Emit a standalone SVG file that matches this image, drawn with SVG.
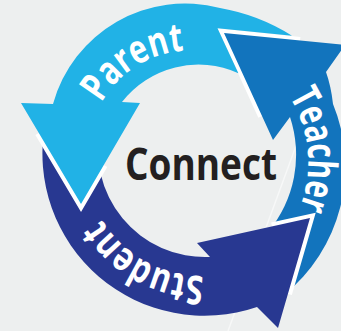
<svg xmlns="http://www.w3.org/2000/svg" width="341" height="331" viewBox="0 0 341 331">
  <style>
    .halo { fill: none; stroke: #FFFFFF; stroke-width: 8; stroke-linejoin: miter; stroke-linecap: butt; }
    .label { font-family: "Open Sans", "DejaVu Sans", sans-serif; font-weight: 700; font-size: 40px; fill: #FFFFFF; }
    .center { font-family: "Open Sans", "DejaVu Sans", sans-serif; font-weight: 700; font-size: 45px; fill: #231F20; }
    .teacher { fill: #1274BD; }
    .student { fill: #283891; }
    .parent { fill: #21B2E6; }
  </style>
  <defs>
    <path id="pathParent" d="M 90.5,132.1 A 102 102 0 0 1 214.9,53.6"/>
    <path id="pathTeacher" d="M 260.9,65.1 A 124 124 0 0 1 277.9,243.9"/>
    <path id="pathStudent" d="M 237.1,270.4 A 117 117 0 0 1 88.6,188.1"/>
  </defs>

  <rect x="0" y="0" width="341" height="331" fill="#EDEFEF"/>
  <g id="background-streaks" stroke="#FFFFFF" stroke-opacity="0.55" stroke-width="1.5">
    <line x1="300" y1="135" x2="228" y2="331"/>
  </g>

  <g id="connectors">
    <g id="teacher">
      <polyline class="halo" points="262,116 224,33 300,41"/>
      <path class="teacher" d="M 224,33 L 345,45 L 326,72 Q 331,86 333,104 A 165 165 0 0 1 284,295 L 268,232 A 120 120 0 0 0 290,117 L 273,140 Z"/>
      <text class="label"><textPath href="#pathTeacher" startOffset="50%" text-anchor="middle" textLength="116" lengthAdjust="spacingAndGlyphs">Teacher</textPath></text>
    </g>
    <g id="student">
      <polyline class="halo" points="272,226.4 310,218 288,294"/>
      <path class="student" d="M 310,218 L 278,328 L 257,307 A 162 162 0 0 1 45,125 L 101,125 A 107 107 0 0 0 210,257 L 197,243 Z"/>
      <text class="label"><textPath href="#pathStudent" startOffset="50%" text-anchor="middle" textLength="122" lengthAdjust="spacingAndGlyphs">Student</textPath></text>
    </g>
    <g id="parent">
      <polyline class="halo" points="38.8,133 81,204 103.8,165"/>
      <path class="parent" d="M 21,103 L 81,204 L 140,103 L 122,102 A 97 97 0 0 1 238.4,73.2 L 217.5,28.3 L 292,35.7 A 200 200 0 0 0 220,8 A 137 137 0 0 0 53,104 Z"/>
      <text class="label"><textPath href="#pathParent" startOffset="50%" text-anchor="middle" textLength="102" lengthAdjust="spacingAndGlyphs">Parent</textPath></text>
    </g>
  </g>

  <g id="connect">
    <text class="center" x="201" y="180" text-anchor="middle" textLength="152" lengthAdjust="spacingAndGlyphs">Connect</text>
  </g>
</svg>
